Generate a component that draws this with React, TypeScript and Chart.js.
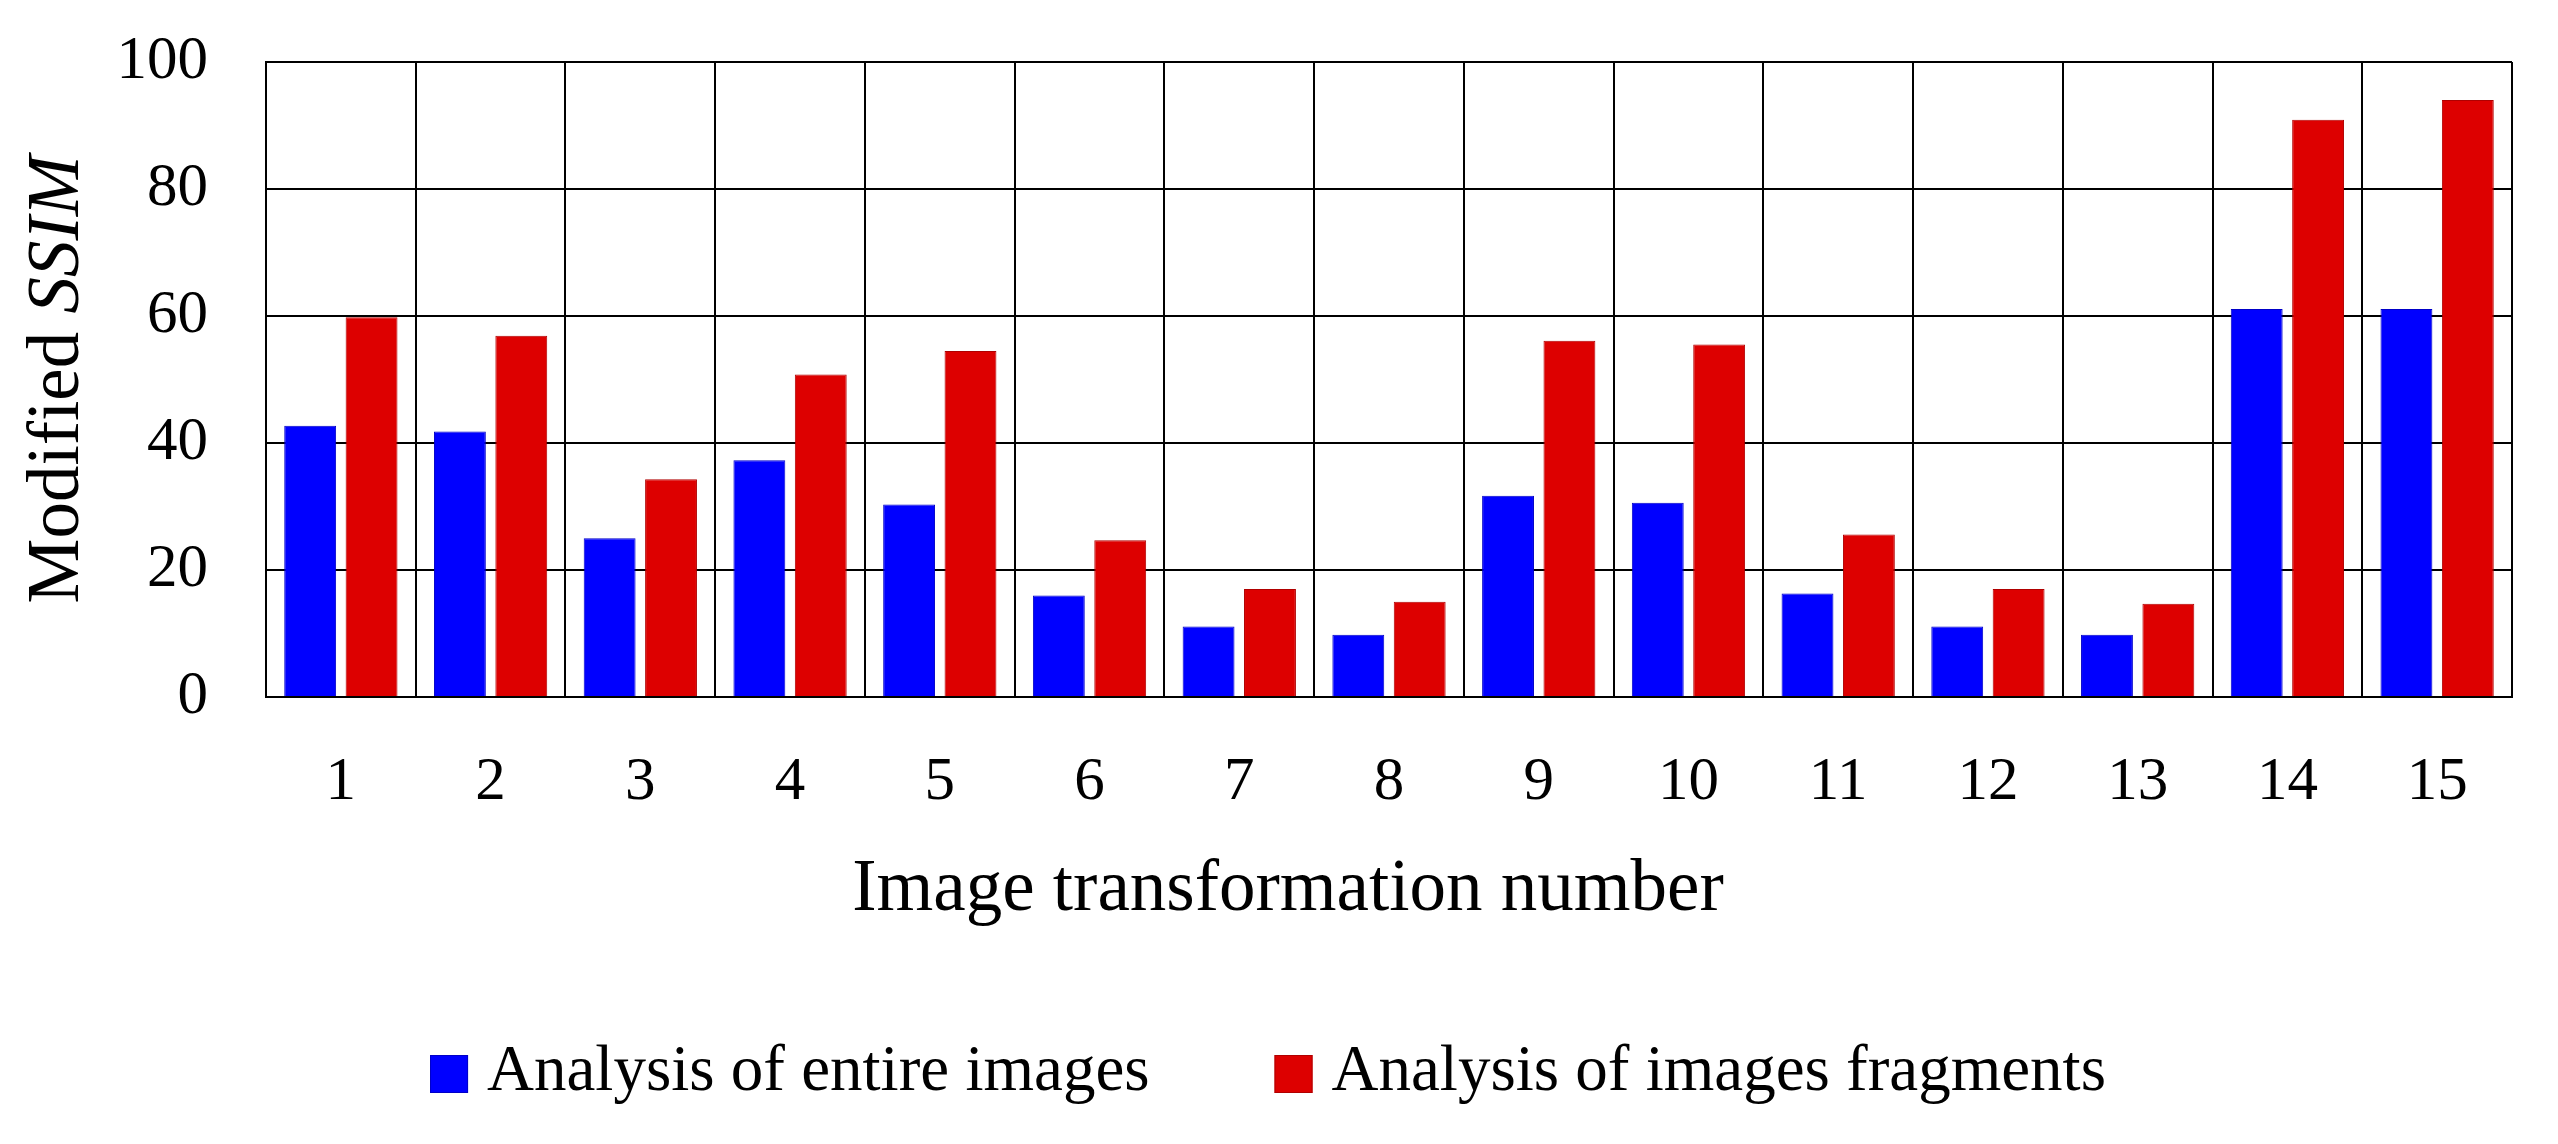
import React, { useEffect, useRef } from "react";
import { Chart, registerables } from "chart.js";

Chart.register(...registerables);

// ---------- data ----------
const categories = ["1", "2", "3", "4", "5", "6", "7", "8", "9", "10", "11", "12", "13", "14", "15"];
const entireImages = [42.7, 41.8, 25.0, 37.3, 30.3, 16.0, 11.1, 9.8, 31.7, 30.6, 16.3, 11.1, 9.8, 61.1, 61.1];
const imageFragments = [59.8, 56.9, 34.3, 50.8, 54.5, 24.7, 17.0, 15.0, 56.1, 55.5, 25.6, 17.0, 14.7, 90.9, 94.0];
const seriesLabels = ["Analysis of entire images", "Analysis of images fragments"];
const yMin = 0;
const yMax = 100;
const yStep = 20;
const xTitle = "Image transformation number";
const yTitlePlain = "Modified ";
const yTitleItalic = "SSIM";

// ---------- style ----------
const FONT = '"Liberation Serif", "Times New Roman", serif';
const BLUE = "#0000ff";
const RED = "#dd0000";
const BLUE_EDGE = "#0000c8";
const RED_EDGE = "#b00000";

const textPlugin = {
  id: "customText",
  afterDraw(chart: any) {
    const ctx = chart.ctx as CanvasRenderingContext2D;
    const area = chart.chartArea;
    ctx.save();
    ctx.fillStyle = "#000";

    // y-axis title (mixed upright / italic)
    ctx.font = `73px ${FONT}`;
    const w1 = ctx.measureText(yTitlePlain).width;
    ctx.font = `italic 73px ${FONT}`;
    const w2 = ctx.measureText(yTitleItalic).width;
    const total = w1 + w2;
    const cy = (area.top + area.bottom) / 2;
    ctx.save();
    ctx.translate(78, cy);
    ctx.rotate(-Math.PI / 2);
    ctx.textAlign = "left";
    ctx.textBaseline = "alphabetic";
    ctx.font = `73px ${FONT}`;
    ctx.fillText(yTitlePlain, -total / 2, 0);
    ctx.font = `italic 73px ${FONT}`;
    ctx.fillText(yTitleItalic, -total / 2 + w1, 0);
    ctx.restore();

    // x-axis title
    ctx.font = `73px ${FONT}`;
    ctx.textAlign = "center";
    ctx.textBaseline = "alphabetic";
    ctx.fillText(xTitle, 1288, 910);

    // legend
    const ds = chart.data.datasets;
    ctx.font = `65px ${FONT}`;
    const box = 38;
    const gapText = 19;
    const gapItem = 125;
    const widths = ds.map((d: any) => ctx.measureText(d.label).width);
    let legendW = 0;
    widths.forEach((w: number, i: number) => {
      legendW += box + gapText + w + (i < widths.length - 1 ? gapItem : 0);
    });
    let x = 1268 - legendW / 2;
    const boxTop = 1055;
    const baseline = 1090;
    ds.forEach((d: any, i: number) => {
      ctx.fillStyle = d.backgroundColor;
      ctx.fillRect(x, boxTop, box, box);
      ctx.strokeStyle = d.borderColor;
      ctx.lineWidth = 1;
      ctx.strokeRect(x + 0.5, boxTop + 0.5, box - 1, box - 1);
      ctx.fillStyle = "#000";
      ctx.textAlign = "left";
      ctx.textBaseline = "alphabetic";
      ctx.fillText(d.label, x + box + gapText, baseline);
      x += box + gapText + widths[i] + gapItem;
    });
    ctx.restore();
  },
};

export default function App() {
  const canvasRef = useRef<HTMLCanvasElement | null>(null);

  useEffect(() => {
    const canvas = canvasRef.current;
    if (!canvas) return;
    const chart = new Chart(canvas, {
      type: "bar",
      data: {
        labels: categories,
        datasets: [
          {
            label: seriesLabels[0],
            data: entireImages,
            backgroundColor: BLUE,
            borderColor: BLUE_EDGE,
            borderWidth: 1,
            barPercentage: 0.845,
            categoryPercentage: 0.82,
          },
          {
            label: seriesLabels[1],
            data: imageFragments,
            backgroundColor: RED,
            borderColor: RED_EDGE,
            borderWidth: 1,
            barPercentage: 0.845,
            categoryPercentage: 0.82,
          },
        ],
      },
      options: {
        responsive: false,
        animation: false,
        devicePixelRatio: 1,
        layout: { padding: { top: 62, right: 46, left: 0, bottom: 0 } },
        plugins: {
          legend: { display: false },
          title: { display: false },
          tooltip: { enabled: false },
        },
        scales: {
          x: {
            grid: {
              display: true,
              offset: true,
              color: "#000",
              lineWidth: 2,
              drawTicks: false,
            },
            border: { display: true, color: "#000", width: 2 },
            ticks: {
              color: "#000",
              font: { family: FONT, size: 61 },
              padding: 49,
              maxRotation: 0,
            },
            afterFit: (scale: any) => {
              scale.height = 447;
            },
          },
          y: {
            min: yMin,
            max: yMax,
            grid: {
              color: "#000",
              lineWidth: 2,
              drawTicks: false,
            },
            border: { display: true, color: "#000", width: 2 },
            ticks: {
              stepSize: yStep,
              color: "#000",
              font: { family: FONT, size: 61 },
              padding: 58,
            },
            afterFit: (scale: any) => {
              scale.width = 266;
              scale.paddingTop = 0;
              scale.paddingBottom = 0;
            },
          },
        },
      },
      plugins: [textPlugin],
    });
    return () => chart.destroy();
  }, []);

  return (
    <div style={{ position: "absolute", left: 0, top: 0, width: 2558, height: 1144, background: "#fff" }}>
      <canvas ref={canvasRef} width={2558} height={1144} style={{ display: "block" }} />
    </div>
  );
}
